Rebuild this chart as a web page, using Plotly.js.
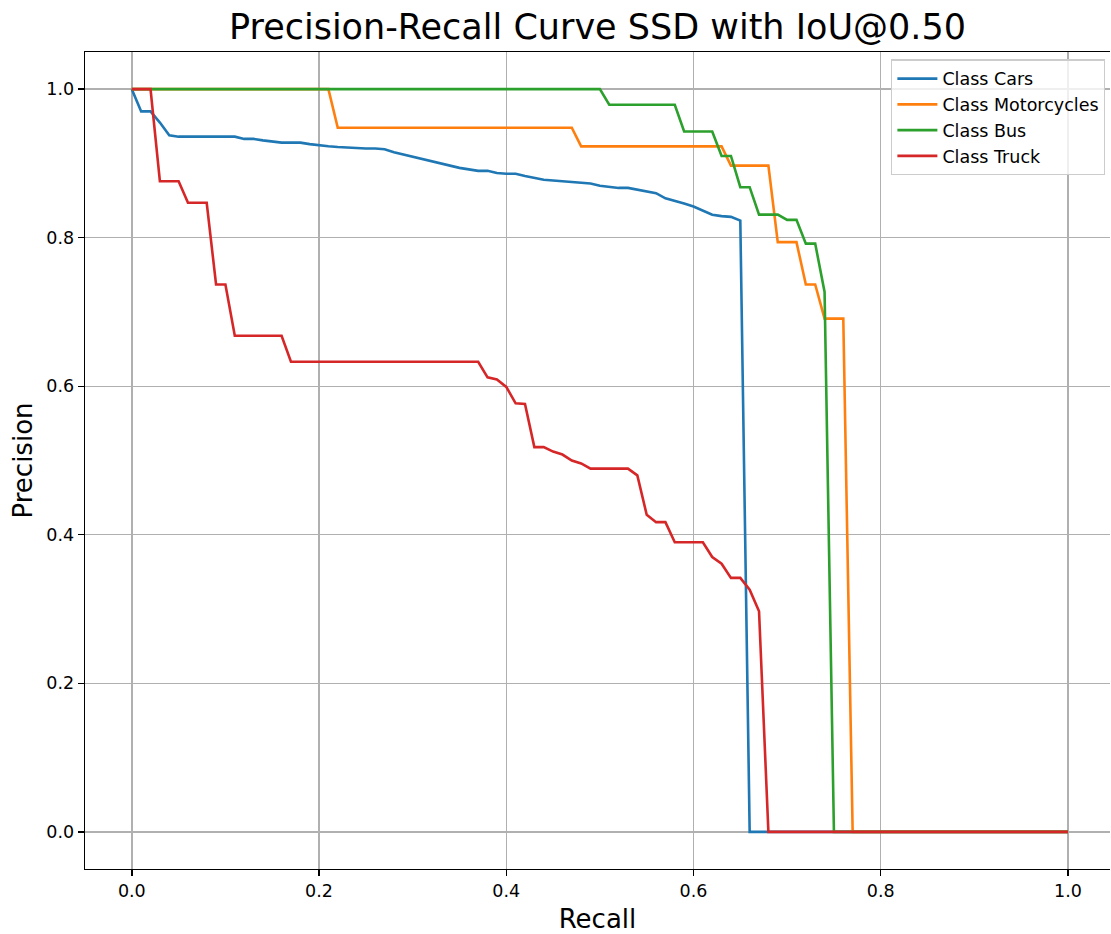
<!DOCTYPE html>
<html>
<head>
<meta charset="utf-8">
<script src="https://cdn.plot.ly/plotly-3.0.1.min.js"></script>
<style>
  html, body { margin: 0; padding: 0; background: #ffffff; }
  #chart { width: 1111px; height: 934px; }
</style>
</head>
<body>
<div id="chart"></div>
<script>
// Recall thresholds (101-point interpolation grid)
const recall = [
  0.00, 0.01, 0.02, 0.03, 0.04, 0.05, 0.06, 0.07, 0.08, 0.09,
  0.10, 0.11, 0.12, 0.13, 0.14, 0.15, 0.16, 0.17, 0.18, 0.19,
  0.20, 0.21, 0.22, 0.23, 0.24, 0.25, 0.26, 0.27, 0.28, 0.29,
  0.30, 0.31, 0.32, 0.33, 0.34, 0.35, 0.36, 0.37, 0.38, 0.39,
  0.40, 0.41, 0.42, 0.43, 0.44, 0.45, 0.46, 0.47, 0.48, 0.49,
  0.50, 0.51, 0.52, 0.53, 0.54, 0.55, 0.56, 0.57, 0.58, 0.59,
  0.60, 0.61, 0.62, 0.63, 0.64, 0.65, 0.66, 0.67, 0.68, 0.69,
  0.70, 0.71, 0.72, 0.73, 0.74, 0.75, 0.76, 0.77, 0.78, 0.79,
  0.80, 0.81, 0.82, 0.83, 0.84, 0.85, 0.86, 0.87, 0.88, 0.89,
  0.90, 0.91, 0.92, 0.93, 0.94, 0.95, 0.96, 0.97, 0.98, 0.99,
  1.00
];

const precisionCars = [
  1.000, 0.970, 0.970, 0.955, 0.938, 0.936, 0.936, 0.936, 0.936, 0.936,
  0.936, 0.936, 0.933, 0.933, 0.931, 0.929, 0.928, 0.928, 0.928, 0.926,
  0.924, 0.923, 0.922, 0.921, 0.920, 0.920, 0.920, 0.919, 0.915, 0.912,
  0.909, 0.906, 0.902, 0.900, 0.897, 0.894, 0.892, 0.890, 0.890, 0.887,
  0.886, 0.886, 0.883, 0.880, 0.878, 0.877, 0.876, 0.876, 0.875, 0.873,
  0.870, 0.868, 0.867, 0.867, 0.865, 0.862, 0.860, 0.853, 0.850, 0.846,
  0.842, 0.836, 0.831, 0.829, 0.828, 0.823, 0, 0, 0, 0,
  0, 0, 0, 0, 0, 0, 0, 0, 0, 0,
  0, 0, 0, 0, 0, 0, 0, 0, 0, 0,
  0, 0, 0, 0, 0, 0, 0, 0, 0, 0,
  0
];

const precisionMotorcycles = [
  1.000, 1.000, 1.000, 1.000, 1.000, 1.000, 1.000, 1.000, 1.000, 1.000,
  1.000, 1.000, 1.000, 1.000, 1.000, 1.000, 1.000, 1.000, 1.000, 1.000,
  1.000, 1.000, 0.948, 0.948, 0.948, 0.948, 0.948, 0.948, 0.948, 0.948,
  0.948, 0.948, 0.948, 0.948, 0.948, 0.948, 0.948, 0.948, 0.948, 0.948,
  0.948, 0.948, 0.948, 0.948, 0.948, 0.948, 0.948, 0.948, 0.923, 0.923,
  0.923, 0.923, 0.923, 0.923, 0.923, 0.923, 0.923, 0.923, 0.923, 0.923,
  0.923, 0.923, 0.923, 0.923, 0.897, 0.897, 0.897, 0.897, 0.897, 0.794,
  0.794, 0.794, 0.737, 0.737, 0.691, 0.691, 0.691, 0, 0, 0,
  0, 0, 0, 0, 0, 0, 0, 0, 0, 0,
  0, 0, 0, 0, 0, 0, 0, 0, 0, 0,
  0
];

const precisionBus = [
  1.000, 1.000, 1.000, 1.000, 1.000, 1.000, 1.000, 1.000, 1.000, 1.000,
  1.000, 1.000, 1.000, 1.000, 1.000, 1.000, 1.000, 1.000, 1.000, 1.000,
  1.000, 1.000, 1.000, 1.000, 1.000, 1.000, 1.000, 1.000, 1.000, 1.000,
  1.000, 1.000, 1.000, 1.000, 1.000, 1.000, 1.000, 1.000, 1.000, 1.000,
  1.000, 1.000, 1.000, 1.000, 1.000, 1.000, 1.000, 1.000, 1.000, 1.000,
  1.000, 0.979, 0.979, 0.979, 0.979, 0.979, 0.979, 0.979, 0.979, 0.943,
  0.943, 0.943, 0.943, 0.910, 0.910, 0.868, 0.868, 0.831, 0.831, 0.831,
  0.824, 0.824, 0.792, 0.792, 0.727, 0, 0, 0, 0, 0,
  0, 0, 0, 0, 0, 0, 0, 0, 0, 0,
  0, 0, 0, 0, 0, 0, 0, 0, 0, 0,
  0
];

const precisionTruck = [
  1.000, 1.000, 1.000, 0.876, 0.876, 0.876, 0.847, 0.847, 0.847, 0.737,
  0.737, 0.668, 0.668, 0.668, 0.668, 0.668, 0.668, 0.633, 0.633, 0.633,
  0.633, 0.633, 0.633, 0.633, 0.633, 0.633, 0.633, 0.633, 0.633, 0.633,
  0.633, 0.633, 0.633, 0.633, 0.633, 0.633, 0.633, 0.633, 0.612, 0.609,
  0.599, 0.577, 0.576, 0.518, 0.518, 0.512, 0.508, 0.500, 0.496, 0.489,
  0.489, 0.489, 0.489, 0.489, 0.480, 0.427, 0.417, 0.417, 0.390, 0.390,
  0.390, 0.390, 0.370, 0.361, 0.342, 0.342, 0.326, 0.297, 0, 0,
  0, 0, 0, 0, 0, 0, 0, 0, 0, 0,
  0, 0, 0, 0, 0, 0, 0, 0, 0, 0,
  0, 0, 0, 0, 0, 0, 0, 0, 0, 0,
  0
];

const classNames = ['Class Cars', 'Class Motorcycles', 'Class Bus', 'Class Truck'];
const classColors = ['#1f77b4', '#ff7f0e', '#2ca02c', '#d62728'];
const classPrecision = [precisionCars, precisionMotorcycles, precisionBus, precisionTruck];

const traces = classNames.map((name, i) => ({
  type: 'scatter',
  mode: 'lines',
  name: name,
  legendgroup: 'g' + i,
  x: recall,
  y: classPrecision[i],
  line: { color: classColors[i], width: 2.6 },
  hoverinfo: 'x+y+name'
}));

const FONT = 'DejaVu Sans, Verdana, sans-serif';

const axisCommon = {
  showgrid: true,
  gridcolor: '#b0b0b0',
  gridwidth: 1.4,
  zeroline: false,
  showline: true,
  linecolor: '#000000',
  linewidth: 1.4,
  ticks: 'outside',
  ticklen: 6,
  tickwidth: 1.4,
  tickcolor: '#000000',
  tickfont: { family: FONT, size: 17.5, color: '#000000' },
  tickformat: '.1f',
  dtick: 0.2,
  tick0: 0
};

const layout = {
  width: 1111,
  height: 934,
  paper_bgcolor: '#ffffff',
  plot_bgcolor: '#ffffff',
  margin: { l: 85, r: 1, t: 52, b: 65 },
  font: { family: FONT, color: '#000000' },
  title: {
    text: 'Precision-Recall Curve SSD with IoU@0.50',
    font: { family: FONT, size: 35, color: '#000000' },
    xref: 'paper', x: 0.5, xanchor: 'center',
    yref: 'container', y: 1 - 27 / 934, yanchor: 'middle'
  },
  xaxis: Object.assign({}, axisCommon, {
    range: [-0.05, 1.0449],
    mirror: true,
    title: { text: 'Recall', font: { family: FONT, size: 26, color: '#000000' }, standoff: 11 }
  }),
  yaxis: Object.assign({}, axisCommon, {
    range: [-0.05, 1.05],
    mirror: false,
    title: { text: 'Precision', font: { family: FONT, size: 26, color: '#000000' }, standoff: 6 }
  }),
  legend: {
    x: 0.9951, xanchor: 'right',
    y: 0.991, yanchor: 'top',
    bgcolor: 'rgba(255,255,255,0.8)',
    bordercolor: '#cccccc',
    borderwidth: 1.4,
    font: { family: FONT, size: 17.5, color: '#000000' },
    tracegroupgap: 7,
    itemwidth: 40,
    entrywidth: 222,
    entrywidthmode: 'pixels',
    traceorder: 'normal'
  },
  showlegend: true
};

Plotly.newPlot('chart', traces, layout, { displayModeBar: false, staticPlot: true });
</script>
</body>
</html>
